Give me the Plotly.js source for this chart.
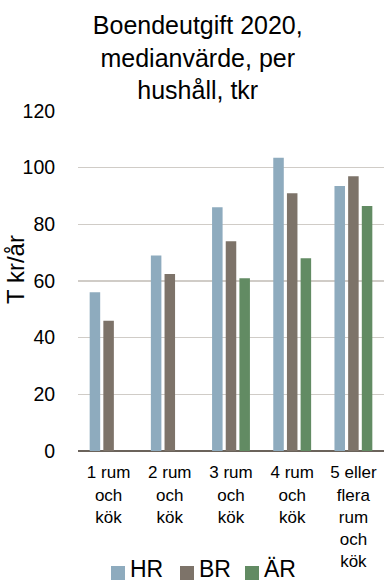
<!DOCTYPE html>
<html>
<head>
<meta charset="utf-8">
<script src="https://cdn.plot.ly/plotly-3.0.1.min.js"></script>
<style>
  html, body { margin: 0; padding: 0; background: #ffffff; }
  #chart { width: 384px; height: 583px; }
</style>
</head>
<body>
<div id="chart"></div>
<script>
// Room-size categories (x axis)
const categories = [
  "1 rum<br>och<br>kök",
  "2 rum<br>och<br>kök",
  "3 rum<br>och<br>kök",
  "4 rum<br>och<br>kök",
  "5 eller<br>flera<br>rum<br>och<br>kök"
];

// Median housing cost per household, thousand SEK per year
const seriesNames = ["HR", "BR", "ÄR"];
const hrValues = [56, 69, 86, 103.5, 93.5];
const brValues = [46, 62.5, 74, 91, 97];
const arValues = [null, null, 61, 68, 86.5];

const yTicks = [0, 20, 40, 60, 80, 100, 120];

const colors = ["#8eabbe", "#7d7369", "#628b63"];
const font = "Liberation Sans, Arial, sans-serif";

// Plot area geometry in pixels, used to place the legend row below the axis
const W = 384, H = 583;
const M = { l: 78, r: 0, t: 111, b: 132 };
const plotW = W - M.l - M.r;
const plotH = H - M.t - M.b;
const px2x = px => (px - M.l) / plotW;
const px2y = py => (H - M.b - py) / plotH;

const values = [hrValues, brValues, arValues];
const traces = values.map((v, i) => ({
  type: "bar",
  name: seriesNames[i],
  x: categories,
  y: v,
  marker: { color: colors[i], line: { width: 0 } },
  hoverinfo: "skip",
  showlegend: false
}));

// Compact legend row: colour square followed by the series name
const legendStarts = [111, 180, 245];
const legendShapes = seriesNames.map((n, i) => ({
  type: "rect",
  xref: "paper", yref: "paper",
  x0: px2x(legendStarts[i]), x1: px2x(legendStarts[i] + 14),
  y0: px2y(580), y1: px2y(566),
  fillcolor: colors[i],
  line: { width: 0 },
  layer: "above"
}));
const legendLabels = seriesNames.map((n, i) => ({
  text: n,
  xref: "paper", yref: "paper",
  x: px2x(legendStarts[i] + 17), xanchor: "left",
  y: px2y(569), yanchor: "middle",
  showarrow: false,
  font: { family: font, size: 23, color: "#000000" }
}));

const yTitle = {
  text: "T kr/år",
  xref: "paper", yref: "paper",
  x: px2x(15), xanchor: "center",
  y: px2y(270), yanchor: "middle",
  textangle: -90,
  showarrow: false,
  font: { family: font, size: 24, color: "#000000" }
};

const layout = {
  width: W,
  height: H,
  paper_bgcolor: "#ffffff",
  plot_bgcolor: "#ffffff",
  font: { family: font, color: "#000000" },
  margin: { l: M.l, r: M.r, t: M.t, b: M.b, pad: 0 },
  barmode: "group",
  bargap: 0.33,
  bargroupgap: 0.23,
  title: {
    text: "Boendeutgift 2020,<br>medianvärde, per<br>hushåll, tkr",
    font: { family: font, size: 25, color: "#000000" },
    x: 0.515,
    xref: "container",
    xanchor: "center",
    y: 0.941,
    yref: "container",
    yanchor: "top"
  },
  xaxis: {
    type: "category",
    tickfont: { family: font, size: 17, color: "#000000" },
    showgrid: false,
    showline: false,
    zeroline: false,
    ticks: "outside",
    ticklen: 6,
    tickcolor: "rgba(0,0,0,0)",
    fixedrange: true
  },
  yaxis: {
    range: [0, 120],
    tickvals: yTicks,
    ticktext: yTicks.map(String),
    tickfont: { family: font, size: 19.5, color: "#000000" },
    showgrid: true,
    gridcolor: "#d0ccc7",
    gridwidth: 1.5,
    zeroline: true,
    zerolinecolor: "#6b635b",
    zerolinewidth: 2.5,
    showline: false,
    ticks: "outside",
    ticklen: 18,
    tickcolor: "rgba(0,0,0,0)",
    fixedrange: true
  },
  showlegend: false,
  shapes: legendShapes,
  annotations: [yTitle, ...legendLabels]
};

Plotly.newPlot("chart", traces, layout, { staticPlot: true, displayModeBar: false });
</script>
</body>
</html>
